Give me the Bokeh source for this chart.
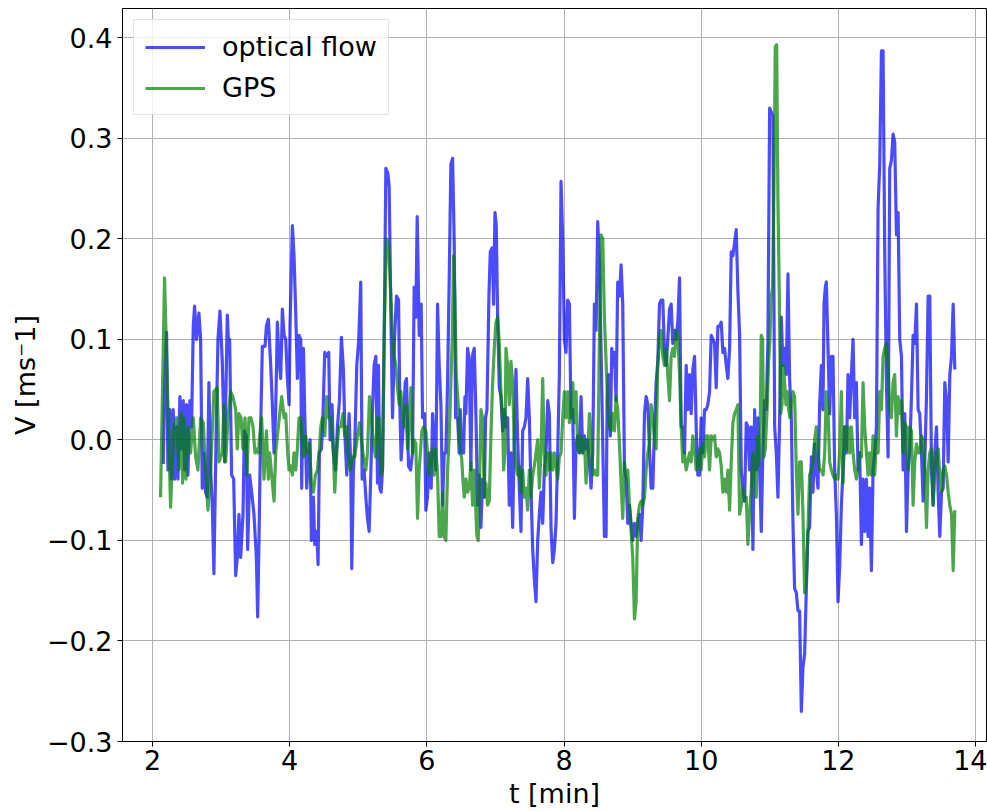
from bokeh.plotting import figure
from bokeh.models import FixedTicker, CustomJSTickFormatter, Range1d
from bokeh.embed import file_html
from bokeh.resources import INLINE

# ---------------- data: optical flow (blue) ----------------
flow_t_a = [2.156, 2.175, 2.205, 2.224, 2.253, 2.273, 2.302, 2.321, 2.350, 2.370, 2.399, 2.419, 2.448, 2.467, 2.496,
            2.516, 2.545, 2.569, 2.594, 2.613, 2.642, 2.676, 2.701, 2.725, 2.749, 2.774, 2.798, 2.822, 2.847, 2.871,
            2.895, 2.929, 2.954, 2.983, 3.017, 3.051]
flow_v_a = [-0.024, 0.048, 0.107, -0.030, 0.030, -0.039, 0.030, -0.039, 0.013, -0.039, 0.043, -0.009, 0.039, -0.030,
            0.035, -0.035, 0.039, 0.013, 0.113, 0.133, 0.100, 0.126, 0.100, -0.048, -0.013, -0.052, -0.057, 0.057,
            -0.030, -0.065, -0.133, 0.013, 0.100, 0.128, 0.078, -0.022]
flow_t_b = [3.090, 3.114, 3.124, 3.153, 3.183, 3.212, 3.236, 3.260, 3.285, 3.319, 3.338, 3.368, 3.387, 3.416, 3.445,
            3.479, 3.514, 3.533, 3.552, 3.577, 3.601, 3.640, 3.660, 3.689, 3.723, 3.747, 3.772, 3.796, 3.820, 3.845,
            3.869, 3.893, 3.918, 3.942, 3.966, 3.991, 4.005, 4.039, 4.063, 4.088, 4.112, 4.136]
flow_v_b = [0.124, 0.087, 0.100, -0.035, -0.039, -0.135, -0.117, -0.074, -0.117, -0.074, 0.009, 0.004, -0.109, -0.035,
            -0.052, -0.074, -0.117, -0.176, -0.100, 0.013, 0.093, 0.093, 0.113, 0.120, 0.074, 0.035, -0.013, 0.030,
            0.117, 0.078, 0.061, 0.130, 0.104, 0.100, 0.061, 0.035, 0.113, 0.213, 0.183, 0.126, 0.061, 0.104]
flow_t_c = [4.161, 4.175, 4.200, 4.219, 4.248, 4.277, 4.297, 4.316, 4.345, 4.365, 4.394, 4.414, 4.433, 4.462, 4.482,
            4.511, 4.540, 4.569, 4.589, 4.618, 4.637, 4.667, 4.696, 4.725, 4.754, 4.783, 4.808, 4.832, 4.866, 4.890,
            4.905, 4.929, 4.949, 4.978, 5.007, 5.036, 5.056, 5.085, 5.114, 5.134, 5.158, 5.182, 5.207, 5.231]
flow_v_c = [0.100, -0.048, 0.091, 0.026, -0.048, -0.013, 0.000, -0.100, -0.057, -0.104, -0.091, -0.124, -0.013, -0.009,
            0.017, 0.087, 0.083, 0.087, 0.000, 0.035, -0.013, -0.030, 0.013, 0.039, 0.102, 0.070, 0.000, -0.035, 0.026,
            -0.026, -0.128, -0.030, -0.004, 0.074, 0.100, 0.157, -0.039, -0.030, -0.061, -0.078, -0.091, -0.035, 0.030,
            0.074]
flow_t_d = [5.256, 5.280, 5.294, 5.314, 5.333, 5.353, 5.377, 5.402, 5.431, 5.450, 5.475, 5.499, 5.528, 5.557, 5.587,
            5.606, 5.625, 5.655, 5.684, 5.703, 5.732, 5.762, 5.791, 5.815, 5.839, 5.859, 5.888, 5.917, 5.937, 5.966,
            5.985, 6.010, 6.034, 6.063, 6.083, 6.107, 6.131, 6.156, 6.180, 6.205, 6.229, 6.253, 6.277, 6.302, 6.326]
flow_v_d = [0.083, -0.043, 0.074, -0.048, -0.052, -0.030, 0.100, 0.270, 0.265, 0.252, 0.126, 0.022, 0.100, 0.143, 0.139,
            0.035, -0.020, 0.013, 0.057, 0.061, -0.026, -0.030, -0.013, 0.152, 0.122, 0.222, 0.104, 0.135, 0.022, 0.026,
            -0.070, -0.057, -0.013, -0.048, 0.026, -0.004, -0.030, 0.135, 0.074, 0.035, -0.065, -0.013, -0.013, 0.057,
            0.161]
flow_t_e = [6.350, 6.375, 6.399, 6.419, 6.448, 6.472, 6.487, 6.506, 6.535, 6.555, 6.569, 6.594, 6.618, 6.642, 6.662,
            6.691, 6.715, 6.740, 6.764, 6.788, 6.813, 6.837, 6.856, 6.876, 6.905, 6.925, 6.954, 6.973, 6.993, 7.012,
            7.032, 7.056, 7.080, 7.105, 7.129, 7.153, 7.178, 7.202, 7.226, 7.251, 7.275, 7.299, 7.324, 7.348, 7.372,
            7.397, 7.421]
flow_v_e = [0.274, 0.280, 0.196, 0.022, 0.022, -0.013, 0.030, -0.013, -0.013, 0.043, 0.026, 0.091, 0.078, -0.030, 0.083,
            0.091, 0.026, -0.065, -0.035, -0.087, -0.039, -0.057, 0.022, 0.030, 0.143, 0.187, 0.191, 0.135, 0.226, 0.213,
            0.122, 0.052, 0.043, 0.009, 0.030, 0.013, 0.022, -0.065, -0.013, -0.087, 0.004, 0.070, 0.000, -0.048, -0.091,
            0.009, 0.013]
seg_t_f = [7.445, 7.470, 7.494, 7.518, 7.543, 7.567, 7.591, 7.616, 7.640, 7.664, 7.689, 7.713, 7.737, 7.762, 7.786,
           7.810, 7.835, 7.859, 7.883, 7.908, 7.932, 7.956, 7.981, 8.005, 8.029, 8.054, 8.078, 8.102, 8.127, 8.151,
           8.175, 8.200, 8.224, 8.248, 8.273, 8.297, 8.321, 8.346, 8.370, 8.394, 8.419, 8.443, 8.467, 8.491, 8.516]
flow_v_f = [0.022, 0.061, 0.022, -0.048, -0.109, -0.139, -0.161, -0.100, -0.074, -0.052, -0.083, -0.030, -0.013, 0.039,
            0.026, -0.087, -0.122, -0.109, -0.083, -0.013, 0.065, 0.257, 0.200, 0.100, 0.087, 0.139, 0.135, 0.022, 0.030,
            -0.078, -0.004, 0.004, -0.013, 0.043, -0.013, 0.004, -0.009, 0.000, -0.022, -0.048, -0.013, 0.135, 0.109,
            0.217, 0.178]
flow_t_g = [8.564, 8.589, 8.613, 8.628, 8.647, 8.676, 8.696, 8.715, 8.735, 8.759, 8.783, 8.808, 8.832, 8.856, 8.881,
            8.905, 8.929, 8.954, 8.978, 9.002, 9.027, 9.051, 9.075, 9.100, 9.124, 9.148, 9.173, 9.197, 9.221, 9.246,
            9.270, 9.294, 9.319, 9.343, 9.367, 9.392, 9.416, 9.440, 9.465, 9.489, 9.513, 9.538, 9.562, 9.586, 9.611]
flow_v_g = [0.000, -0.096, -0.096, 0.039, 0.065, 0.004, 0.091, 0.074, 0.087, 0.039, 0.157, 0.143, 0.174, 0.135, -0.030,
            -0.039, -0.083, -0.065, -0.083, -0.100, -0.083, -0.096, -0.083, -0.074, -0.100, -0.065, 0.026, 0.043, 0.035,
            -0.009, -0.048, -0.048, 0.013, 0.057, 0.078, 0.135, 0.139, 0.139, 0.087, 0.074, 0.100, 0.130, 0.135, 0.096,
            0.109]
seg_t_h = [9.635, 9.659, 9.684, 9.708, 9.732, 9.757, 9.781, 9.805, 9.830, 9.854, 9.878, 9.903, 9.927, 9.951, 9.976,
           10.000, 10.024, 10.049, 10.073, 10.097, 10.122, 10.146, 10.170, 10.195, 10.219, 10.243, 10.268, 10.292,
           10.316, 10.341, 10.365, 10.389, 10.414, 10.438, 10.462, 10.487, 10.511, 10.535, 10.560, 10.584, 10.608,
           10.633, 10.657, 10.681, 10.706]
flow_v_h = [0.100, 0.117, 0.161, 0.013, 0.013, -0.013, 0.074, 0.030, 0.065, 0.026, 0.070, 0.083, 0.013, -0.035, -0.035,
            0.022, -0.013, 0.030, 0.030, 0.035, 0.048, 0.104, 0.100, 0.096, 0.052, 0.113, 0.113, 0.117, 0.087, 0.091,
            0.074, 0.061, 0.091, 0.187, 0.183, 0.196, 0.209, 0.148, 0.104, -0.030, -0.048, -0.061, 0.017, 0.013, -0.030]
flow_t_i = [10.730, 10.754, 10.779, 10.803, 10.827, 10.852, 10.876, 10.900, 10.925, 10.949, 10.973, 10.998, 11.022,
            11.046, 11.071, 11.095, 11.119, 11.144, 11.168, 11.192, 11.216, 11.241, 11.265, 11.289, 11.314, 11.338,
            11.362, 11.387, 11.411, 11.435, 11.460, 11.484, 11.508, 11.533, 11.557, 11.581, 11.606, 11.630, 11.654,
            11.679, 11.703, 11.727, 11.752, 11.776, 11.791, 11.810]
flow_v_i = [0.013, -0.109, 0.030, -0.030, 0.022, -0.030, -0.091, -0.009, 0.039, 0.030, 0.100, 0.330, 0.326, 0.322, 0.013,
            -0.013, -0.057, 0.022, 0.122, 0.074, 0.091, 0.065, 0.165, 0.061, 0.022, -0.083, -0.148, -0.152, -0.170,
            -0.170, -0.270, -0.226, -0.213, -0.148, -0.091, -0.087, -0.017, -0.052, -0.004, -0.030, -0.048, 0.035,
            0.074, 0.030, 0.135, 0.152]
seg_t_j = [11.825, 11.849, 11.873, 11.898, 11.922, 11.946, 11.971, 11.995, 12.019, 12.044, 12.068, 12.092, 12.117,
           12.141, 12.165, 12.190, 12.214, 12.238, 12.263, 12.287, 12.311, 12.336, 12.360, 12.384, 12.409, 12.433,
           12.457, 12.482, 12.506, 12.530, 12.555, 12.579, 12.603, 12.628, 12.652, 12.676, 12.701, 12.725, 12.749,
           12.774, 12.798, 12.822, 12.847, 12.871, 12.895]
flow_v_j = [0.157, 0.091, 0.026, 0.083, 0.083, -0.030, -0.074, -0.161, -0.126, -0.065, -0.030, 0.013, -0.013, 0.065,
            0.022, 0.065, 0.100, 0.022, 0.057, -0.030, -0.013, -0.104, -0.039, -0.091, -0.039, -0.096, -0.048, -0.130,
            -0.030, -0.013, 0.013, 0.230, 0.274, 0.387, 0.387, 0.187, 0.057, -0.017, 0.270, 0.278, 0.304, 0.296, 0.204,
            0.226, 0.100]
seg_t_k = [12.920, 12.944, 12.968, 12.993, 13.017, 13.041, 13.066, 13.090, 13.114, 13.139, 13.163, 13.187, 13.212,
           13.236, 13.260, 13.285, 13.309, 13.333, 13.358, 13.382, 13.406, 13.431, 13.455, 13.479, 13.504, 13.528,
           13.552, 13.577, 13.601, 13.625, 13.650, 13.674, 13.698]
flow_v_k = [0.083, -0.030, 0.026, -0.091, -0.030, -0.009, 0.043, 0.104, 0.096, 0.135, 0.030, 0.026, -0.013, -0.061,
            -0.022, 0.043, 0.143, 0.143, -0.030, -0.065, -0.013, 0.013, -0.052, -0.096, -0.052, -0.048, 0.057, 0.039,
            -0.022, 0.065, 0.083, 0.135, 0.070]

# ---------------- data: GPS (green) ----------------
gps_t_a = [2.117, 2.175, 2.263, 2.312, 2.350, 2.384, 2.419, 2.438, 2.457, 2.487, 2.516, 2.555, 2.594, 2.628, 2.662,
           2.701, 2.740, 2.774, 2.808, 2.847, 2.895, 2.944, 2.968, 3.017, 3.041]
gps_v_a = [-0.057, 0.161, -0.067, 0.013, 0.022, -0.030, 0.026, -0.043, 0.022, -0.039, 0.013, -0.013, 0.022, -0.017,
           -0.030, 0.022, 0.017, -0.030, -0.070, -0.030, 0.048, 0.052, -0.022, -0.013, 0.035]
gps_t_b = [3.066, 3.105, 3.139, 3.173, 3.212, 3.236, 3.260, 3.290, 3.319, 3.348, 3.377, 3.406, 3.436, 3.465, 3.494,
           3.514, 3.543, 3.562, 3.591, 3.625, 3.660, 3.689, 3.708, 3.737, 3.772, 3.796, 3.820, 3.854, 3.884, 3.918,
           3.942, 3.971, 3.991, 4.015, 4.039, 4.063, 4.088, 4.112, 4.136]
gps_v_b = [-0.022, 0.026, 0.048, 0.043, 0.030, -0.009, 0.026, 0.022, -0.009, 0.022, -0.035, 0.022, 0.022, 0.013, -0.013,
           -0.009, -0.013, 0.004, 0.022, -0.039, 0.009, -0.039, -0.013, -0.035, -0.061, -0.013, 0.004, 0.026, 0.043,
           0.022, 0.026, -0.013, -0.030, -0.026, -0.035, -0.013, -0.030, -0.009, 0.022]
gps_t_c = [4.161, 4.200, 4.234, 4.258, 4.287, 4.316, 4.345, 4.375, 4.404, 4.433, 4.453, 4.477, 4.511, 4.540, 4.569,
           4.599, 4.618, 4.637, 4.657, 4.686, 4.715, 4.745, 4.774, 4.803, 4.832, 4.852, 4.881, 4.915, 4.949, 4.988,
           5.017, 5.046, 5.076, 5.110, 5.134, 5.163, 5.192, 5.222, 5.251]
gps_v_c = [0.022, -0.017, 0.004, -0.013, -0.004, -0.043, -0.052, -0.035, -0.030, -0.009, 0.013, 0.022, 0.004, 0.043,
           0.022, 0.022, 0.004, -0.013, -0.052, -0.013, 0.013, 0.013, 0.026, 0.004, 0.013, -0.013, -0.030, -0.017,
           -0.017, 0.004, 0.017, 0.000, -0.017, -0.030, -0.013, 0.043, 0.022, -0.004, -0.017]
gps_t_d = [5.280, 5.304, 5.328, 5.353, 5.377, 5.411, 5.441, 5.475, 5.499, 5.523, 5.548, 5.572, 5.596, 5.621, 5.645,
           5.669, 5.694, 5.718, 5.742, 5.767, 5.791, 5.815, 5.839, 5.864, 5.888, 5.927, 5.951, 5.985, 6.010, 6.034,
           6.059, 6.083, 6.107, 6.131, 6.156, 6.180, 6.205, 6.229, 6.253, 6.277, 6.302, 6.326]
gps_v_d = [0.022, 0.022, -0.035, -0.030, 0.100, 0.200, 0.196, 0.143, 0.104, 0.083, 0.074, 0.052, 0.035, 0.048, 0.026,
           0.013, 0.035, -0.009, 0.017, 0.052, -0.013, 0.000, -0.004, -0.078, -0.030, 0.009, 0.013, 0.009, -0.013,
           -0.035, -0.022, -0.009, -0.035, -0.009, -0.035, -0.096, -0.096, -0.052, -0.096, -0.100, -0.030, 0.004]
gps_t_e = [6.370, 6.389, 6.409, 6.428, 6.457, 6.487, 6.506, 6.525, 6.545, 6.569, 6.594, 6.618, 6.642, 6.667, 6.691,
           6.710, 6.730, 6.749, 6.769, 6.788, 6.813, 6.837, 6.861, 6.885, 6.910, 6.934, 6.959, 6.983, 7.007, 7.032,
           7.056, 7.080, 7.105, 7.119, 7.139, 7.153, 7.178, 7.202, 7.226, 7.251, 7.275, 7.299, 7.324, 7.348, 7.372,
           7.397, 7.421]
gps_v_e = [0.100, 0.183, 0.143, 0.065, 0.035, -0.013, -0.017, -0.039, -0.057, -0.039, -0.052, -0.048, -0.022, -0.065,
           -0.030, -0.065, -0.096, -0.100, -0.039, 0.030, 0.022, -0.057, -0.043, -0.065, -0.061, 0.004, 0.057, 0.091,
           0.117, 0.122, 0.096, 0.048, 0.017, -0.030, -0.013, 0.091, 0.074, 0.035, 0.078, 0.057, -0.004, -0.026,
           -0.035, -0.026, -0.052, -0.030, -0.057]
gps_v_f = [-0.048, -0.070, -0.030, -0.057, -0.035, -0.026, -0.013, 0.000, -0.048, -0.013, 0.061, -0.013, -0.035, -0.013,
           -0.030, -0.013, -0.030, -0.013, -0.026, -0.039, -0.017, -0.013, 0.022, 0.048, 0.022, 0.048, 0.017, 0.026,
           0.057, 0.017, 0.048, -0.009, -0.013, 0.004, -0.013, 0.000, -0.043, -0.013, 0.026, 0.004, -0.035, -0.030,
           -0.035, -0.035, 0.100]
gps_t_g = [8.540, 8.564, 8.589, 8.613, 8.637, 8.662, 8.686, 8.710, 8.735, 8.759, 8.783, 8.808, 8.832, 8.856, 8.881,
           8.905, 8.929, 8.954, 8.978, 9.002, 9.027, 9.051, 9.075, 9.100, 9.124, 9.148, 9.173, 9.197, 9.221, 9.246,
           9.270, 9.294, 9.319, 9.343, 9.367, 9.392, 9.416, 9.440, 9.465, 9.489, 9.513, 9.538, 9.562, 9.586, 9.611]
gps_v_g = [0.204, 0.200, 0.122, 0.078, 0.035, 0.013, 0.009, 0.026, 0.009, 0.043, 0.030, -0.004, -0.043, -0.078, -0.022,
           -0.039, -0.030, -0.065, -0.091, -0.117, -0.178, -0.161, -0.078, -0.065, -0.061, -0.065, -0.057, -0.030,
           -0.013, -0.004, 0.035, 0.022, 0.004, -0.009, 0.074, 0.100, 0.109, 0.083, 0.074, 0.091, 0.065, 0.039, 0.083,
           0.091, 0.083]
gps_v_h = [0.109, 0.104, 0.065, 0.013, -0.022, -0.013, -0.030, -0.022, -0.013, -0.022, 0.004, -0.009, -0.030, -0.026,
           -0.009, -0.030, -0.004, -0.017, 0.004, 0.004, -0.030, 0.004, 0.000, 0.004, -0.017, -0.009, -0.013, -0.026,
           -0.052, -0.039, -0.052, -0.030, -0.070, -0.022, 0.017, 0.026, 0.030, 0.035, -0.074, -0.065, -0.048, -0.061,
           -0.057, -0.104, -0.074]
gps_t_i = [10.730, 10.754, 10.779, 10.803, 10.817, 10.837, 10.856, 10.876, 10.895, 10.915, 10.934, 10.964, 10.983,
           11.002, 11.022, 11.041, 11.061, 11.080, 11.100, 11.119, 11.139, 11.158, 11.178, 11.197, 11.216, 11.236,
           11.255, 11.275, 11.294, 11.314, 11.338, 11.362, 11.387, 11.411, 11.435, 11.460, 11.484, 11.508, 11.533,
           11.557, 11.581, 11.606, 11.630, 11.654, 11.679, 11.703, 11.727, 11.752, 11.776, 11.801]
gps_v_i = [-0.048, -0.013, -0.022, -0.057, 0.004, -0.026, -0.013, 0.104, 0.100, -0.017, -0.009, 0.035, 0.078, 0.100,
           0.143, 0.152, 0.252, 0.391, 0.393, 0.239, 0.143, 0.026, 0.035, 0.074, 0.057, 0.035, 0.048, 0.030, 0.022,
           0.035, 0.048, 0.043, -0.030, -0.074, -0.022, -0.022, -0.074, -0.152, -0.139, -0.087, -0.035, -0.030,
           -0.022, 0.000, 0.013, -0.013, -0.030, -0.030, -0.035, -0.013]
gps_v_j = [0.048, 0.030, -0.022, -0.030, -0.035, -0.039, -0.035, -0.039, -0.013, 0.048, -0.043, 0.013, -0.009, 0.013,
           -0.013, 0.013, -0.013, -0.030, -0.039, -0.030, -0.013, -0.017, 0.057, 0.013, -0.013, -0.035, -0.013, -0.035,
           0.004, -0.035, 0.000, -0.013, 0.048, 0.030, 0.083, 0.091, 0.096, 0.074, 0.030, 0.022, 0.057, 0.065, 0.004,
           0.043, 0.026]
gps_v_k = [0.039, -0.013, 0.017, 0.013, -0.030, 0.013, 0.009, -0.065, -0.022, -0.004, -0.013, -0.013, 0.004, 0.000,
           -0.030, -0.087, -0.030, -0.013, -0.009, -0.065, -0.030, -0.013, -0.009, -0.035, -0.052, -0.030, -0.026,
           -0.035, -0.052, -0.065, -0.074, -0.130, -0.070]

t_flow = (flow_t_a + flow_t_b + flow_t_c + flow_t_d + flow_t_e + seg_t_f + flow_t_g + seg_t_h + flow_t_i
          + seg_t_j + seg_t_k)
v_flow = (flow_v_a + flow_v_b + flow_v_c + flow_v_d + flow_v_e + flow_v_f + flow_v_g + flow_v_h + flow_v_i
          + flow_v_j + flow_v_k)
t_gps = (gps_t_a + gps_t_b + gps_t_c + gps_t_d + gps_t_e + seg_t_f + gps_t_g + seg_t_h + gps_t_i
         + seg_t_j + seg_t_k)
v_gps = (gps_v_a + gps_v_b + gps_v_c + gps_v_d + gps_v_e + gps_v_f + gps_v_g + gps_v_h + gps_v_i
         + gps_v_j + gps_v_k)
assert len(t_flow) == len(v_flow), (len(t_flow), len(v_flow))
assert len(t_gps) == len(v_gps), (len(t_gps), len(v_gps))

x_ticks = [2, 4, 6, 8, 10, 12, 14]
y_ticks = [-0.3, -0.2, -0.1, 0.0, 0.1, 0.2, 0.3, 0.4]
series_names = ["optical flow", "GPS"]
x_label = "t [min]"
y_label = "V [ms\u207b1]"

FONT = "DejaVu Sans"
FS = "27px"

p = figure(width=987, height=811,
           x_range=Range1d(1.562, 14.16), y_range=Range1d(-0.3, 0.429),
           output_backend="svg", toolbar_location=None,
           min_border_left=122, min_border_right=1, min_border_top=8, min_border_bottom=70,
           background_fill_color="white", border_fill_color="white")

p.line(t_flow, v_flow, line_color="blue", line_alpha=0.7, line_width=3.2, line_join="round",
       legend_label=series_names[0])
p.line(t_gps, v_gps, line_color="green", line_alpha=0.7, line_width=3.2, line_join="round",
       legend_label=series_names[1])

p.xaxis.ticker = FixedTicker(ticks=x_ticks)
p.yaxis.ticker = FixedTicker(ticks=y_ticks)
p.yaxis.formatter = CustomJSTickFormatter(code="""
    if (Math.abs(tick) < 1e-9) { return "0.0"; }
    return tick.toFixed(1).replace("-", "\\u2212");
""")

p.xaxis.axis_label = x_label
p.yaxis.axis_label = y_label
for ax in (p.xaxis, p.yaxis):
    ax.axis_label_text_font = FONT
    ax.axis_label_text_font_size = FS
    ax.axis_label_text_font_style = "normal"
    ax.axis_label_text_color = "black"
    ax.major_label_text_font = FONT
    ax.major_label_text_font_size = FS
    ax.major_label_text_color = "black"
    ax.axis_line_color = "black"
    ax.major_tick_line_color = "black"
    ax.major_tick_out = 5
    ax.major_tick_in = 0
    ax.minor_tick_line_color = None
p.xaxis.major_label_standoff = 3
p.yaxis.major_label_standoff = 5
p.xaxis.axis_label_standoff = 5
p.yaxis.axis_label_standoff = 3

p.grid.grid_line_color = "#b0b0b0"
p.grid.grid_line_width = 1
p.outline_line_color = "black"
p.outline_line_width = 1
p.outline_line_alpha = 1

lg = p.legend[0]
lg.location = "top_left"
lg.margin = 11
lg.padding = 11
lg.spacing = 10
lg.glyph_width = 60
lg.glyph_height = 30
lg.label_height = 30
lg.label_standoff = 17
lg.label_text_font = FONT
lg.label_text_font_size = FS
lg.label_text_color = "black"
lg.border_line_color = "#cccccc"
lg.border_line_width = 1
lg.background_fill_color = "white"
lg.background_fill_alpha = 0.8

open("out.html", "w").write(file_html(p, INLINE))
